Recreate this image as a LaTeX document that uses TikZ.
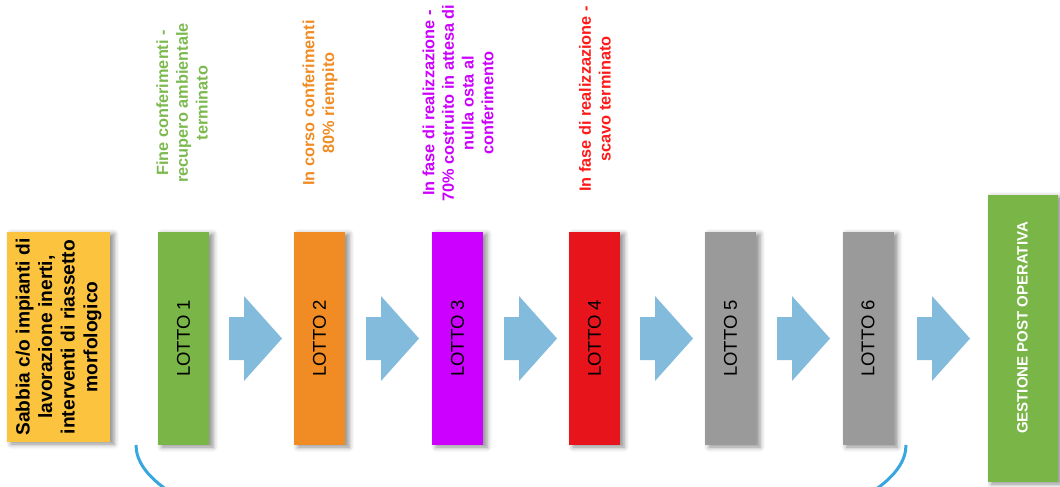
\documentclass[tikz,border=0pt]{standalone}
\usepackage{fontspec}
\setmainfont{Liberation Sans}
\usetikzlibrary{shadows.blur}

\definecolor{sandyellow}{HTML}{FCC43E}
\definecolor{lotgreen}{HTML}{79B547}
\definecolor{lotorange}{HTML}{F08C23}
\definecolor{lotmagenta}{HTML}{CC00FF}
\definecolor{lotred}{HTML}{E8141B}
\definecolor{lotgray}{HTML}{9A9A9A}
\definecolor{flowblue}{HTML}{82BBDB}
\definecolor{bracketblue}{HTML}{38A6DF}
\definecolor{notegreen}{HTML}{7CBA50}
\definecolor{notered}{HTML}{FF1A1A}

\begin{document}
\begin{tikzpicture}[x=1pt,y=-1pt,
  shadowed/.style={draw=none, inner sep=0pt,
    blur shadow={shadow xshift=4pt, shadow yshift=-2pt,
      shadow blur radius=5pt, shadow opacity=45}},
  lotbox/.style={shadowed, minimum width=51pt, minimum height=213pt},
  lottext/.style={rotate=90, font=\fontsize{18.5}{21}\selectfont, text=black},
  note/.style={rotate=90, align=center, inner sep=0pt,
    font=\bfseries\fontsize{16.3}{19.7}\selectfont},
  blockarrow/.pic={
    \fill[flowblue] (0,-21.5) -- (15,-21.5) -- (15,-42.5) -- (53,0)
      -- (15,42.5) -- (15,21.5) -- (0,21.5) -- cycle;}
]
\useasboundingbox (0,0) rectangle (1060,487);

% bracket under the lots
\begin{scope}
  \clip (0,0) rectangle (1060,487);
  \draw[bracketblue, line width=3pt]
    (136,445) arc[start angle=180, end angle=0, x radius=385, y radius=114];
\end{scope}

% source box
\node[shadowed, fill=sandyellow, minimum width=103pt, minimum height=210pt]
  (src) at (58.5,337) {};
\node[rotate=90, align=center, inner sep=0pt,
  font=\bfseries\fontsize{19.2}{22.6}\selectfont] (srct) at (src.center)
  {Sabbia c/o impianti di\\lavorazione inerti,\\interventi di riassetto\\morfologico};

% lots
\node[lotbox, fill=lotgreen]   (l1) at (183.5,338.5) {};
\node[lotbox, fill=lotorange]  (l2) at (319.5,338.5) {};
\node[lotbox, fill=lotmagenta] (l3) at (457.5,338.5) {};
\node[lotbox, fill=lotred]     (l4) at (594.5,338.5) {};
\node[lotbox, fill=lotgray]    (l5) at (730.5,338.5) {};
\node[lotbox, fill=lotgray]    (l6) at (868.0,338.5) {};
\node[lottext] (t1) at (l1.center) {LOTTO 1};
\node[lottext] (t2) at (l2.center) {LOTTO 2};
\node[lottext] (t3) at (l3.center) {LOTTO 3};
\node[lottext] (t4) at (l4.center) {LOTTO 4};
\node[lottext] (t5) at (l5.center) {LOTTO 5};
\node[lottext] (t6) at (l6.center) {LOTTO 6};

% post-operative management box
\node[shadowed, fill=lotgreen, minimum width=70pt, minimum height=287pt]
  (post) at (1022.5,338.5) {};
\node[rotate=90, text=white, inner sep=0pt,
  font=\bfseries\fontsize{15}{18}\selectfont] (postt) at (1022.5,328)
  {GESTIONE POST OPERATIVA};

% flow arrows
\pic at (229,338.5) {blockarrow};
\pic at (366,338.5) {blockarrow};
\pic at (504,338.5) {blockarrow};
\pic at (640,338.5) {blockarrow};
\pic at (777,338.5) {blockarrow};
\pic at (917,338.5) {blockarrow};

% status notes
\node[note, text=notegreen]  (n1) at (182,103)
  {Fine conferimenti -\\recupero ambientale\\terminato};
\node[note, text=lotorange]  (n2) at (320,103)
  {In corso conferimenti\\80\% riempito};
\node[note, text=lotmagenta] (n3) at (458,103)
  {In fase di realizzazione -\\70\% costruito in attesa di\\nulla osta al\\conferimento};
\node[note, text=notered]    (n4) at (595,99)
  {In fase di realizzazione -\\scavo terminato};
\end{tikzpicture}
\end{document}
